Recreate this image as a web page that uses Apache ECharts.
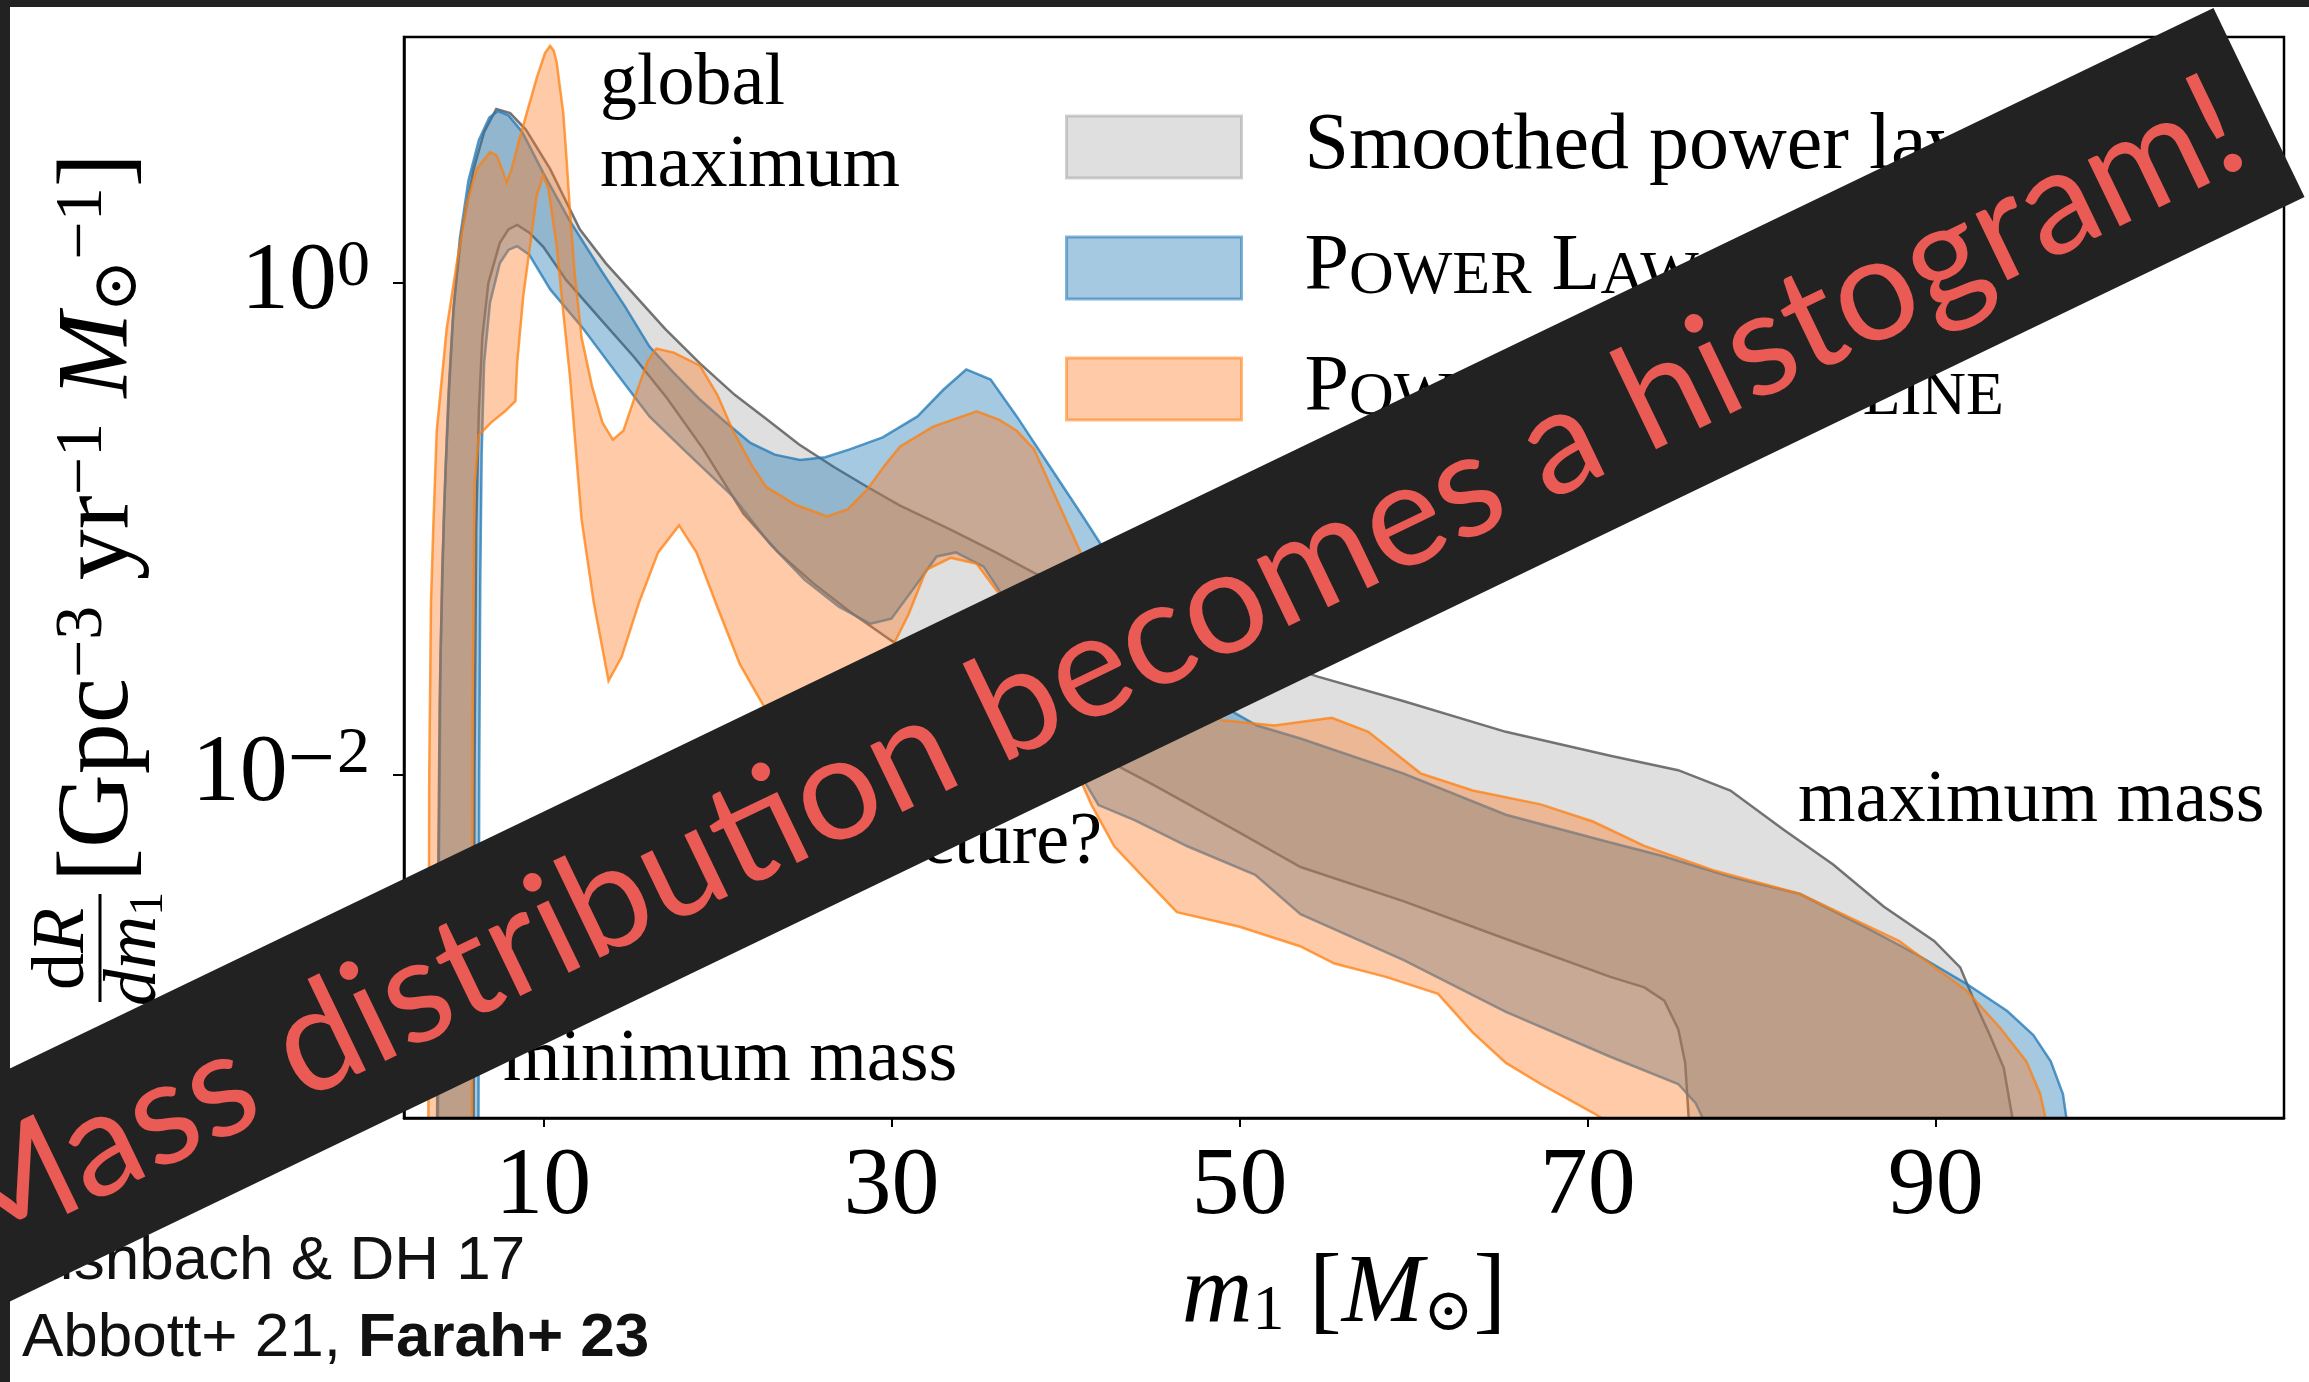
<!DOCTYPE html>
<html><head><meta charset="utf-8">
<script src="https://cdn.jsdelivr.net/npm/echarts@6/dist/echarts.min.js"></script>
<style>html,body{margin:0;padding:0;background:#fff}#c{width:2309px;height:1382px}</style>
</head><body><div id="c"></div>
<script>
// ---------- data ----------
const xTickValues = [10, 30, 50, 70, 90];
const yTickValues = [1, 0.01];
const seriesNames = ['Smoothed power law', 'Power Law + Peak', 'Power Law + Spline'];

// Smoothed power law: 90% band (upper / lower edges), [m1, dR/dm1]
const smoothUpper = [[3.9,4e-4],[3.95,0.003],[4.05,0.02],[4.2,0.07],[4.4,0.18],[4.6,0.38],[4.85,0.8],[5.3,1.6],[6.0,2.9],[6.6,4.1],[7.3,5.1],[8.1,4.9],[9.0,4.2],[10.4,2.9],[12.1,1.65],[13.6,1.2],[15.2,0.9],[17,0.65],[19,0.47],[21,0.35],[22.8,0.28],[24.7,0.22],[26.7,0.178],[28.6,0.148],[30.5,0.124],[33.4,0.099],[36,0.08],[38.2,0.066],[41,0.055],[44,0.046],[47,0.038],[50,0.032],[54.5,0.025],[59.4,0.0199],[65.3,0.0149],[71.3,0.0119],[75.2,0.0104],[78.2,0.0086],[81.2,0.006],[84.1,0.0043],[87,0.0029],[89.9,0.0021],[91.4,0.00164],[92.2,0.0012],[93.1,0.00087],[93.9,0.00064],[94.4,0.0004]];
const smoothLower = [[6.0,4e-4],[6.05,0.01],[6.15,0.1],[6.3,0.3],[6.5,0.6],[6.85,1.0],[7.5,1.45],[8.0,1.65],[8.5,1.72],[9.2,1.6],[10.0,1.4],[11.3,1.03],[13.3,0.71],[15.2,0.5],[17.1,0.34],[19.2,0.21],[21.5,0.115],[23.5,0.08],[25.5,0.06],[27.6,0.046],[30,0.035],[33,0.027],[36,0.0205],[40,0.014],[45,0.0091],[50,0.0058],[53.5,0.0042],[59.4,0.00305],[65.3,0.00214],[71.3,0.0015],[73.25,0.00136],[74.4,0.0012],[75.2,0.00092],[75.6,0.00067],[75.8,0.0004]];

// Power Law + Peak
const peakUpper = [[3.95,4e-4],[4.0,0.004],[4.1,0.03],[4.3,0.12],[4.55,0.35],[4.8,0.7],[5.2,1.5],[5.7,2.6],[6.3,3.8],[6.9,4.7],[7.4,5.0],[8.0,4.8],[8.8,4.1],[10.0,2.8],[11.5,1.8],[13.3,1.13],[14.7,0.8],[16.1,0.55],[17.5,0.43],[19.0,0.335],[20.5,0.27],[21.9,0.223],[23.3,0.2],[24.75,0.19],[26.2,0.195],[27.6,0.21],[29.5,0.235],[31.5,0.286],[33.0,0.368],[34.3,0.444],[35.7,0.404],[37.2,0.286],[39.1,0.179],[41.0,0.112],[42.0,0.087],[43,0.069],[45,0.042],[47,0.027],[49,0.019],[51,0.0158],[53.5,0.014],[59.4,0.0101],[65.3,0.00685],[71.3,0.00528],[74.2,0.00468],[78.2,0.00383],[82.2,0.00326],[86.0,0.00238],[88.9,0.00185],[91.8,0.0014],[94.1,0.00109],[95.6,0.00087],[96.6,0.00068],[97.3,0.0005],[97.5,0.0004]];
const peakLower = [[6.28,4e-4],[6.32,0.01],[6.38,0.06],[6.46,0.2],[6.6,0.47],[6.94,0.83],[7.5,1.2],[8.0,1.36],[8.5,1.41],[9.2,1.3],[10.4,0.94],[12.3,0.65],[14.2,0.43],[16.1,0.286],[18.05,0.21],[20.9,0.135],[23,0.087],[25,0.062],[27,0.048],[28.8,0.041],[30,0.043],[31.5,0.06],[32.6,0.077],[33.7,0.08],[35.3,0.07],[36.2,0.056],[37.5,0.035],[39,0.019],[40.5,0.011],[41.9,0.0075],[44,0.0065],[47,0.0051],[50.9,0.0039],[53.5,0.0027],[59.4,0.00176],[65.3,0.00108],[71.3,0.00071],[75.2,0.00055],[76.2,0.00046],[76.6,0.0004]];

// Power Law + Spline
const splineUpper = [[3.4,4e-4],[3.45,0.01],[3.55,0.05],[3.68,0.1],[3.88,0.25],[4.45,0.65],[5.03,1.2],[5.6,2.1],[6.17,2.9],[6.94,3.4],[7.32,3.3],[7.71,2.8],[7.9,2.56],[8.18,2.9],[8.57,3.7],[9.05,4.9],[9.62,6.8],[10.1,8.6],[10.39,9.2],[10.6,8.8],[10.77,7.9],[11.15,4.9],[11.35,3.1],[11.54,1.93],[11.8,1.1],[12.2,0.6],[12.8,0.38],[13.4,0.27],[14.0,0.23],[14.6,0.25],[15.3,0.35],[16.0,0.48],[16.5,0.54],[17.5,0.52],[19.0,0.46],[20.0,0.35],[20.9,0.25],[22.0,0.18],[22.8,0.148],[24.5,0.125],[26.3,0.112],[27.5,0.12],[28.6,0.144],[29.6,0.18],[30.5,0.216],[32.4,0.26],[34.9,0.30],[36.2,0.277],[37.2,0.25],[38.2,0.21],[39.5,0.131],[40.8,0.082],[42.5,0.05],[44.5,0.032],[46.5,0.022],[49,0.0166],[52,0.0158],[55.3,0.017],[57.4,0.0149],[60.4,0.0101],[63.4,0.0086],[67.3,0.00755],[70.3,0.00643],[73.25,0.00512],[77.2,0.00408],[82.2,0.00326],[87.9,0.0021],[91.8,0.00131],[93.7,0.00093],[95.2,0.00068],[96.0,0.0005],[96.3,0.0004]];
const splineLower = [[5.9,4e-4],[5.95,0.02],[6.05,0.15],[6.3,0.24],[7.0,0.27],[7.8,0.3],[8.4,0.33],[8.5,0.47],[8.85,0.88],[9.24,1.41],[9.62,2.26],[10.0,2.73],[10.3,2.4],[10.77,1.41],[11.15,0.76],[11.54,0.41],[11.92,0.19],[12.2,0.109],[12.9,0.05],[13.75,0.024],[14.5,0.03],[15.5,0.05],[16.6,0.08],[17.8,0.103],[18.8,0.08],[20.0,0.048],[21.3,0.028],[22.66,0.019],[24,0.0165],[26,0.0178],[28,0.021],[29.5,0.0275],[31,0.045],[32.0,0.068],[33.4,0.076],[34.9,0.072],[36.2,0.054],[37.2,0.042],[38.5,0.026],[40,0.013],[41.5,0.0075],[42.8,0.0051],[44.5,0.0038],[46.4,0.00275],[50,0.0024],[53.47,0.002],[55.45,0.0017],[58.4,0.0015],[61.4,0.00128],[63.4,0.00089],[65.3,0.00067],[67.3,0.00055],[70.3,0.00042],[70.8,0.0004]];

// ---------- styles ----------
const SERIF = '"Liberation Serif", "DejaVu Serif", serif';
const SANS = '"Liberation Sans", Arial, sans-serif';
const bandStyles = {
  'Smoothed power law': {fill: 'rgba(128,128,128,0.25)', stroke: 'rgba(80,80,80,0.78)', legendBorder: 'rgba(150,150,150,0.45)'},
  'Power Law + Peak': {fill: 'rgba(31,119,180,0.4)', stroke: 'rgba(31,119,180,0.75)', legendBorder: 'rgba(31,119,180,0.55)'},
  'Power Law + Spline': {fill: 'rgba(252,122,36,0.4)', stroke: 'rgba(255,127,14,0.75)', legendBorder: 'rgba(255,127,14,0.55)'}
};

function band(name, upper, lower) {
  const st = bandStyles[name];
  return {
    type: 'custom', name: name, coordinateSystem: 'cartesian2d',
    data: upper, silent: true, z: 2,
    itemStyle: {color: st.fill, borderColor: st.legendBorder, borderWidth: 2},
    renderItem: function (params, api) {
      if (params.dataIndex !== 0) return null;
      const up = upper.map(p => api.coord(p));
      const lo = lower.map(p => api.coord(p));
      return {type: 'group', children: [
        {type: 'polygon', shape: {points: up.concat(lo.slice().reverse())}, style: {fill: st.fill, stroke: null}},
        {type: 'polyline', shape: {points: up}, style: {fill: null, stroke: st.stroke, lineWidth: 2.5}},
        {type: 'polyline', shape: {points: lo}, style: {fill: null, stroke: st.stroke, lineWidth: 2.5}}
      ]};
    }
  };
}

const chart = echarts.init(document.getElementById('c'), null, {renderer: 'canvas', width: 2309, height: 1382});

function annot(text, x, y, align) {
  return {type: 'text', z: 50, x: x, y: y, style: {text: text, font: '74px ' + SERIF, fill: '#000', align: align || 'left', verticalAlign: 'middle'}};
}

// rotated y-axis title (drawn as text): units part and the dR/dm1 fraction
const yTitle = {type: 'group', z: 50, x: 100, y: 1008, rotation: Math.PI / 2, children: [
  {type: 'text', z: 50, x: 126, y: 0, style: {
    text: '{r|[Gpc}{p|\u22123}{r| yr}{p|\u22121}{i| M}{u|\u2299}{p|\u22121}{r|]}', align: 'left', verticalAlign: 'middle',
    rich: {
      r: {fontFamily: SERIF, fontSize: 102, fill: '#000'},
      i: {fontFamily: SERIF, fontStyle: 'italic', fontSize: 102, fill: '#000'},
      p: {fontFamily: SERIF, fontSize: 68, fill: '#000', verticalAlign: 'top'},
      u: {fontFamily: SERIF, fontSize: 63, fill: '#000', verticalAlign: 'bottom'}
    }}},
  {type: 'text', z: 50, x: 59, y: -36, style: {text: '{r|d}{i|R}', align: 'center', verticalAlign: 'middle',
    rich: {r: {fontFamily: SERIF, fontSize: 74, fill: '#000'}, i: {fontFamily: SERIF, fontStyle: 'italic', fontSize: 74, fill: '#000'}}}},
  {type: 'line', z: 50, shape: {x1: 6, y1: 0, x2: 114, y2: 0}, style: {stroke: '#000', lineWidth: 3}},
  {type: 'text', z: 50, x: 59, y: 36, style: {text: '{i|dm}{s|1}', align: 'center', verticalAlign: 'middle',
    rich: {i: {fontFamily: SERIF, fontStyle: 'italic', fontSize: 74, fill: '#000'}, s: {fontFamily: SERIF, fontSize: 48, fill: '#000', verticalAlign: 'bottom'}}}}
]};

const option = {
  animation: false,
  backgroundColor: '#ffffff',
  grid: {left: 404, top: 37, width: 1880, height: 1081, show: true, z: 10, backgroundColor: 'transparent', borderColor: '#000', borderWidth: 2.5, outerBoundsMode: 'none', containLabel: false},
  xAxis: {
    type: 'value', min: 2, max: 110,
    splitLine: {show: false},
    axisLine: {show: true, lineStyle: {color: '#000', width: 2.5}},
    axisTick: {show: true, customValues: xTickValues, length: 9, lineStyle: {color: '#000', width: 2}},
    axisLabel: {customValues: xTickValues, margin: 22, color: '#000', fontFamily: SERIF, fontSize: 96},
    name: '{i|m}{d|1}{r| [}{i|M}{o|\u2299}{r|]}',
    nameLocation: 'middle', nameGap: 128, nameMoveOverlap: false,
    nameTextStyle: {color: '#000', rich: {
      i: {fontFamily: SERIF, fontStyle: 'italic', fontSize: 98, color: '#000'},
      r: {fontFamily: SERIF, fontSize: 98, color: '#000'},
      d: {fontFamily: SERIF, fontSize: 64, color: '#000', verticalAlign: 'bottom'},
      o: {fontFamily: SERIF, fontSize: 60, color: '#000', verticalAlign: 'bottom'}
    }}
  },
  yAxis: {
    type: 'log', logBase: 10, min: 4e-4, max: 10,
    splitLine: {show: false},
    axisLine: {show: true, lineStyle: {color: '#000', width: 2.5}},
    axisTick: {show: true, customValues: yTickValues, length: 11, lineStyle: {color: '#000', width: 2}},
    axisLabel: {
      customValues: yTickValues, margin: 34, color: '#000',
      formatter: function (v) {
        const e = Math.round(Math.log10(v));
        return e < 0 ? '{b|10}{m|\u2212}{s|' + (-e) + '}' : '{b|10}{s|' + e + '}';
      },
      rich: {
        b: {fontFamily: SERIF, fontSize: 96, color: '#000'},
        m: {fontFamily: SERIF, fontSize: 84, color: '#000', verticalAlign: 'top', padding: [0, 2, 22, 0]},
        s: {fontFamily: SERIF, fontSize: 66, color: '#000', verticalAlign: 'top', padding: [0, 0, 30, 0]}
      }
    }
  },
  legend: {
    orient: 'vertical', left: 1065, top: 107, padding: 0, itemWidth: 175, itemHeight: 62, itemGap: 41,
    selectedMode: false, align: 'left',
    data: seriesNames.map(n => ({name: n, icon: 'rect', itemStyle: {color: bandStyles[n].fill, borderColor: bandStyles[n].legendBorder, borderWidth: 3}})),
    formatter: function (name) {
      if (name === 'Power Law + Peak') return 'P{s|OWER} L{s|AW} + P{s|EAK}';
      if (name === 'Power Law + Spline') return 'P{s|OWER} L{s|AW} + S{s|PLINE}';
      return name;
    },
    textStyle: {fontFamily: SERIF, fontSize: 80, color: '#000', padding: [0, 0, 0, 58],
      rich: {s: {fontFamily: SERIF, fontSize: 62, color: '#000', verticalAlign: 'bottom'}}}
  },
  series: [
    band(seriesNames[0], smoothUpper, smoothLower),
    band(seriesNames[1], peakUpper, peakLower),
    band(seriesNames[2], splineUpper, splineLower)
  ],
  graphic: {elements: [
    yTitle,
    annot('global', 600, 85),
    annot('maximum', 600, 167),
    annot('maximum mass', 1798, 802),
    annot('minimum mass', 503, 1061),
    annot('substructure?', 1102, 844, 'right'),
    {type: 'text', z: 50, x: 22, y: 1262, style: {text: 'Fishbach & DH 17', font: '62px ' + SANS, fill: '#111', align: 'left', verticalAlign: 'middle'}},
    {type: 'text', z: 50, x: 22, y: 1339, style: {text: '{n|Abbott+ 21, }{b|Farah+ 23}', align: 'left', verticalAlign: 'middle',
      rich: {n: {fontFamily: SANS, fontSize: 62, fill: '#111'}, b: {fontFamily: SANS, fontSize: 62, fontWeight: 'bold', fill: '#111'}}}},
    {type: 'rect', z: 100, shape: {x: 0, y: 0, width: 2309, height: 7}, style: {fill: '#222222'}},
    {type: 'rect', z: 100, shape: {x: 0, y: 0, width: 10, height: 1382}, style: {fill: '#222222'}},
    {type: 'group', z: 110, x: 2259, y: 102.5, rotation: 25.7 * Math.PI / 180, children: [
      {type: 'rect', z: 110, shape: {x: -3300, y: -105, width: 3300, height: 210}, style: {fill: '#222222'}},
      {type: 'text', z: 111, x: -30, y: 4, style: {text: 'Mass distribution becomes a histogram!', font: '146px Lato, "Open Sans", sans-serif', fill: '#e95b54', align: 'right', verticalAlign: 'middle'}}
    ]}
  ]}
};
chart.setOption(option);
</script>
</body></html>
